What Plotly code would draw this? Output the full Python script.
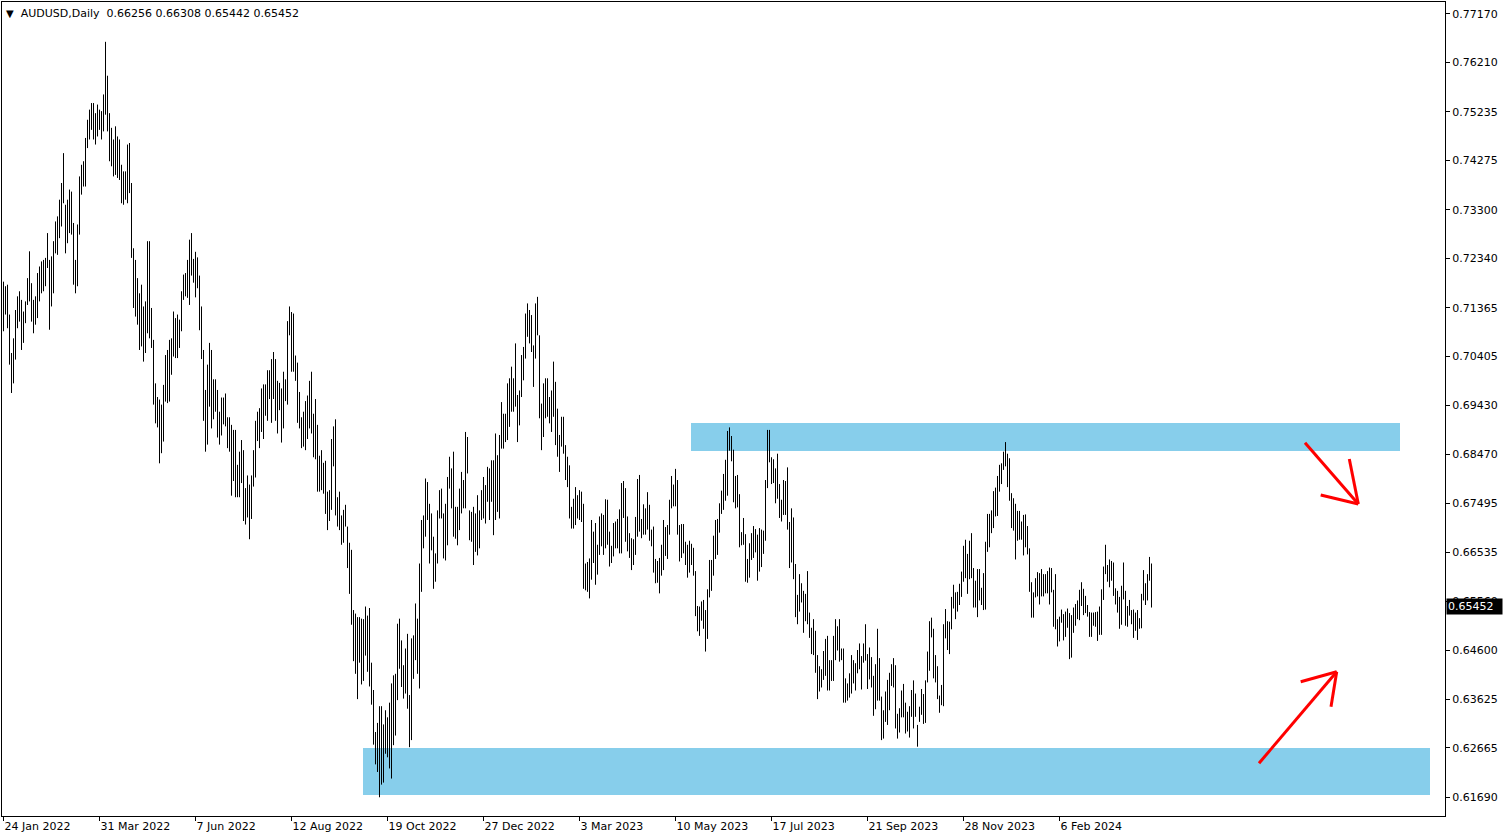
import plotly.graph_objects as go

# ---------------- data ----------------
symbol_title = "AUDUSD,Daily"
last_open, last_high, last_low, last_close = 0.66256, 0.66308, 0.65442, 0.65452

# x-axis: one slot per daily bar; labels every 48 bars
date_labels = ["24 Jan 2022", "31 Mar 2022", "7 Jun 2022", "12 Aug 2022", "19 Oct 2022",
               "27 Dec 2022", "3 Mar 2023", "10 May 2023", "17 Jul 2023", "21 Sep 2023",
               "28 Nov 2023", "6 Feb 2024"]
date_label_bars = [0, 48, 96, 144, 192, 240, 288, 336, 384, 432, 480, 528]

# y-axis labels (MetaTrader scale)
price_ticks = [0.77170, 0.76210, 0.75235, 0.74275, 0.73300, 0.72340, 0.71365, 0.70405,
               0.69430, 0.68470, 0.67495, 0.66535, 0.65560, 0.64600, 0.63625, 0.62665, 0.61690]

# daily highs / lows in 1/10000 (pips)
bar_high_pips = [
    7188, 7179, 7182, 7123, 7047, 7076, 7132, 7159, 7169, 7152,
    7129, 7149, 7195, 7248, 7185, 7152, 7159, 7205, 7218, 7228,
    7231, 7235, 7284, 7231, 7238, 7268, 7307, 7317, 7350, 7383,
    7442, 7340, 7350, 7370, 7366, 7304, 7231, 7301, 7396, 7419,
    7426, 7472, 7508, 7528, 7541, 7541, 7521, 7538, 7528, 7525,
    7558, 7662, 7595, 7521, 7492, 7469, 7495, 7475, 7469, 7419,
    7406, 7406, 7459, 7462, 7383, 7254, 7231, 7195, 7165, 7182,
    7139, 7149, 7268, 7268, 7136, 7073, 6987, 6960, 6955, 6945,
    6984, 7043, 7053, 7073, 7076, 7129, 7116, 7123, 7113, 7169,
    7202, 7205, 7231, 7271, 7284, 7233, 7247, 7236, 7200, 7139,
    7053, 6974, 7024, 7067, 7053, 6995, 6995, 6974, 6931, 6959,
    6959, 6967, 6920, 6920, 6905, 6895, 6895, 6826, 6852, 6875,
    6855, 6780, 6805, 6787, 6805, 6855, 6913, 6931, 6938, 6977,
    6985, 6985, 7013, 7013, 7035, 7049, 7035, 6992, 6988, 6977,
    7010, 6995, 7110, 7139, 7128, 7125, 7042, 7028, 6970, 6920,
    6931, 6952, 6963, 6992, 7010, 6927, 6956, 6905, 6844, 6855,
    6830, 6834, 6773, 6776, 6877, 6902, 6916, 6762, 6773, 6726,
    6737, 6747, 6704, 6672, 6658, 6539, 6532, 6525, 6525, 6522,
    6521, 6546, 6528, 6543, 6435, 6381, 6298, 6316, 6349, 6349,
    6313, 6341, 6327, 6356, 6394, 6410, 6413, 6512, 6522, 6479,
    6430, 6463, 6492, 6371, 6483, 6489, 6552, 6522, 6631, 6717,
    6726, 6799, 6792, 6749, 6730, 6684, 6651, 6736, 6776, 6779,
    6730, 6749, 6802, 6842, 6819, 6852, 6743, 6743, 6779, 6812,
    6796, 6891, 6881, 6736, 6733, 6743, 6730, 6766, 6736, 6776,
    6802, 6786, 6822, 6819, 6835, 6835, 6888, 6845, 6885, 6950,
    6927, 6927, 6987, 6997, 7020, 6997, 7066, 6964, 6973, 7043,
    7059, 7125, 7145, 7132, 7122, 7062, 7145, 7158, 7082, 6947,
    6987, 6997, 6997, 6960, 6973, 7030, 6990, 6937, 6885, 6921,
    6921, 6865, 6842, 6825, 6743, 6759, 6782, 6766, 6776, 6773,
    6749, 6631, 6634, 6641, 6717, 6694, 6711, 6668, 6724, 6730,
    6727, 6758, 6757, 6694, 6666, 6711, 6714, 6719, 6738, 6790,
    6794, 6780, 6724, 6691, 6681, 6679, 6723, 6798, 6806, 6719,
    6748, 6740, 6772, 6747, 6698, 6704, 6640, 6636, 6642, 6668,
    6717, 6703, 6707, 6757, 6804, 6787, 6818, 6796, 6707, 6709,
    6709, 6674, 6668, 6676, 6670, 6662, 6616, 6547, 6546, 6556,
    6559, 6539, 6580, 6638, 6638, 6686, 6717, 6719, 6750, 6775,
    6808, 6836, 6893, 6900, 6883, 6856, 6804, 6806, 6768, 6693,
    6721, 6689, 6640, 6671, 6691, 6705, 6699, 6688, 6701, 6698,
    6696, 6796, 6895, 6895, 6841, 6837, 6819, 6848, 6788, 6757,
    6796, 6794, 6821, 6713, 6740, 6722, 6630, 6569, 6610, 6592,
    6577, 6571, 6616, 6534, 6504, 6521, 6498, 6450, 6428, 6422,
    6458, 6482, 6488, 6440, 6440, 6488, 6521, 6507, 6521, 6463,
    6463, 6404, 6394, 6414, 6450, 6440, 6434, 6460, 6473, 6448,
    6473, 6511, 6452, 6465, 6446, 6409, 6432, 6502, 6444, 6368,
    6341, 6378, 6401, 6415, 6432, 6444, 6430, 6334, 6345, 6380,
    6393, 6356, 6338, 6349, 6381, 6400, 6374, 6312, 6348, 6383,
    6373, 6400, 6457, 6517, 6524, 6502, 6450, 6428, 6370, 6391,
    6511, 6541, 6517, 6516, 6565, 6589, 6574, 6575, 6591, 6615,
    6666, 6678, 6650, 6676, 6691, 6622, 6597, 6620, 6620, 6583,
    6612, 6674, 6729, 6729, 6736, 6774, 6781, 6804, 6826, 6829,
    6852, 6871, 6848, 6839, 6770, 6760, 6749, 6735, 6735, 6714,
    6727, 6728, 6705, 6661, 6594, 6574, 6602, 6614, 6612, 6620,
    6610, 6610, 6616, 6623, 6622, 6579, 6610, 6521, 6526, 6540,
    6531, 6536, 6542, 6533, 6529, 6544, 6551, 6558, 6579, 6594,
    6581, 6567, 6549, 6535, 6534, 6534, 6535, 6536, 6546, 6580,
    6625, 6668, 6628, 6639, 6636, 6633, 6582, 6577, 6565, 6587,
    6633, 6577, 6547, 6559, 6539, 6540, 6534, 6539, 6523, 6571,
    6618, 6592, 6610, 6644, 6631,
]
bar_low_pips = [
    7090, 7123, 7096, 7024, 6968, 6987, 7034, 7096, 7109, 7053,
    7067, 7106, 7142, 7149, 7109, 7086, 7103, 7116, 7149, 7165,
    7169, 7179, 7215, 7093, 7139, 7165, 7244, 7241, 7274, 7297,
    7343, 7244, 7264, 7284, 7281, 7182, 7165, 7179, 7281, 7360,
    7376, 7376, 7452, 7469, 7488, 7469, 7459, 7475, 7488, 7469,
    7485, 7518, 7485, 7426, 7416, 7396, 7399, 7393, 7389, 7343,
    7340, 7350, 7343, 7363, 7235, 7136, 7119, 7103, 7053, 7060,
    7030, 7047, 7086, 7076, 7057, 6945, 6908, 6900, 6829, 6849,
    6872, 6951, 6948, 6951, 7004, 7040, 7037, 7037, 7057, 7090,
    7152, 7159, 7156, 7142, 7200, 7186, 7157, 7175, 7092, 7035,
    6913, 6852, 6866, 6941, 6898, 6916, 6931, 6880, 6866, 6884,
    6906, 6902, 6859, 6852, 6765, 6794, 6762, 6762, 6762, 6790,
    6715, 6708, 6722, 6679, 6719, 6783, 6801, 6873, 6859, 6891,
    6877, 6923, 6913, 6956, 6909, 6956, 6913, 6888, 6934, 6870,
    6898, 6952, 6945, 7082, 7010, 7010, 6992, 6909, 6898, 6859,
    6862, 6855, 6877, 6898, 6888, 6841, 6837, 6773, 6773, 6776,
    6769, 6729, 6697, 6715, 6737, 6823, 6726, 6704, 6697, 6668,
    6672, 6704, 6622, 6571, 6510, 6438, 6413, 6363, 6435, 6392,
    6399, 6449, 6417, 6388, 6352, 6273, 6234, 6219, 6169, 6194,
    6198, 6255, 6248, 6226, 6206, 6272, 6291, 6361, 6423, 6387,
    6364, 6374, 6344, 6268, 6282, 6403, 6440, 6413, 6384, 6575,
    6661, 6684, 6717, 6631, 6657, 6581, 6595, 6631, 6720, 6720,
    6641, 6637, 6667, 6779, 6740, 6684, 6680, 6667, 6697, 6730,
    6740, 6740, 6809, 6677, 6674, 6628, 6654, 6647, 6661, 6717,
    6720, 6710, 6753, 6717, 6753, 6687, 6717, 6733, 6720, 6858,
    6858, 6871, 6875, 6901, 6931, 6931, 6941, 6871, 6904, 6960,
    6993, 7036, 7079, 7066, 7049, 6980, 7036, 7082, 6918, 6855,
    6881, 6918, 6921, 6908, 6891, 6921, 6865, 6842, 6812, 6862,
    6848, 6796, 6782, 6720, 6700, 6700, 6707, 6720, 6717, 6713,
    6581, 6578, 6575, 6562, 6599, 6632, 6589, 6609, 6648, 6665,
    6648, 6661, 6668, 6625, 6632, 6645, 6661, 6661, 6651, 6651,
    6721, 6674, 6655, 6642, 6618, 6628, 6648, 6684, 6694, 6681,
    6688, 6688, 6698, 6676, 6665, 6613, 6592, 6593, 6572, 6607,
    6618, 6646, 6640, 6688, 6740, 6744, 6744, 6688, 6635, 6642,
    6651, 6628, 6603, 6613, 6628, 6607, 6527, 6497, 6488, 6518,
    6502, 6457, 6482, 6564, 6577, 6607, 6640, 6648, 6692, 6729,
    6737, 6755, 6765, 6854, 6833, 6752, 6740, 6742, 6663, 6667,
    6668, 6595, 6593, 6603, 6638, 6642, 6653, 6597, 6615, 6624,
    6650, 6676, 6780, 6831, 6788, 6790, 6750, 6759, 6721, 6714,
    6727, 6727, 6698, 6622, 6633, 6600, 6525, 6511, 6536, 6554,
    6494, 6517, 6511, 6484, 6452, 6450, 6415, 6363, 6378, 6386,
    6401, 6409, 6380, 6380, 6399, 6399, 6440, 6459, 6437, 6440,
    6356, 6356, 6360, 6366, 6374, 6394, 6380, 6414, 6422, 6382,
    6435, 6439, 6383, 6402, 6386, 6330, 6343, 6360, 6360, 6282,
    6285, 6318, 6312, 6341, 6389, 6386, 6305, 6285, 6297, 6327,
    6327, 6295, 6299, 6287, 6328, 6305, 6328, 6269, 6318, 6332,
    6314, 6316, 6396, 6419, 6485, 6404, 6396, 6363, 6336, 6351,
    6349, 6483, 6460, 6452, 6501, 6542, 6521, 6536, 6549, 6565,
    6595, 6602, 6571, 6600, 6602, 6544, 6544, 6525, 6558, 6549,
    6539, 6540, 6654, 6663, 6691, 6701, 6724, 6725, 6773, 6788,
    6816, 6823, 6782, 6755, 6701, 6696, 6639, 6676, 6678, 6678,
    6647, 6663, 6649, 6575, 6524, 6524, 6564, 6566, 6550, 6566,
    6566, 6572, 6572, 6550, 6574, 6506, 6501, 6467, 6477, 6514,
    6479, 6486, 6504, 6442, 6445, 6494, 6508, 6521, 6519, 6547,
    6529, 6533, 6526, 6486, 6486, 6508, 6506, 6478, 6490, 6490,
    6559, 6610, 6595, 6584, 6597, 6567, 6550, 6534, 6502, 6510,
    6560, 6508, 6506, 6528, 6511, 6484, 6498, 6480, 6502, 6503,
    6558, 6549, 6558, 6597, 6544,
]

# drawn objects: supply/demand zones (bar position, price)
zone_start_bar = [343.75, 179.75]
zone_end_bar = [698.25, 713.25]
zone_price_low = [0.68534, 0.61735]
zone_price_high = [0.69087, 0.62664]

# hand-drawn red arrows: shaft tail -> tip, plus two wing ends
arrow_tail_bar = [650.75, 627.75]
arrow_tail_price = [0.68698, 0.62362]
arrow_tip_bar = [677.4, 666.6]
arrow_tip_price = [0.67486, 0.64172]
arrow_wing1_bar = [672.9, 648.6]
arrow_wing1_price = [0.68376, 0.63974]
arrow_wing2_bar = [658.6, 663.75]
arrow_wing2_price = [0.67664, 0.63480]

# ---------------- figure ----------------
FONT = "DejaVu Sans"
W, H = 1508, 840
ML, MR, MT, MB = 2, 63, 2, 24
PX_PER_BAR = 2.0
X_START = -0.75
x_range = [X_START, X_START + (W - ML - MR) / PX_PER_BAR]

xs, ys = [], []
for i, (h, l) in enumerate(zip(bar_high_pips, bar_low_pips)):
    xs += [i, i, None]
    ys += [l / 10000.0, h / 10000.0, None]

fig = go.Figure()
fig.add_trace(go.Scatter(x=xs, y=ys, mode="lines",
                         line=dict(color="#000000", width=1),
                         hoverinfo="skip", showlegend=False))

shapes = []
for x0, x1, y0, y1 in zip(zone_start_bar, zone_end_bar, zone_price_low, zone_price_high):
    shapes.append(dict(type="rect", xref="x", yref="y", x0=x0, x1=x1, y0=y0, y1=y1,
                       fillcolor="#87CEEB", line=dict(width=0), layer="below"))

for k in range(len(arrow_tip_bar)):
    tip = (arrow_tip_bar[k], arrow_tip_price[k])
    for sx, sy in [(arrow_tail_bar[k], arrow_tail_price[k]),
                   (arrow_wing1_bar[k], arrow_wing1_price[k]),
                   (arrow_wing2_bar[k], arrow_wing2_price[k])]:
        shapes.append(dict(type="line", xref="x", yref="y", x0=sx, y0=sy,
                           x1=tip[0], y1=tip[1],
                           line=dict(color="#FF0000", width=3), layer="above"))

header = ("<span style='font-size:10px'>\u25BC</span>\u00a0 " + symbol_title + "\u00a0 "
          + " ".join(f"{v:.5f}" for v in (last_open, last_high, last_low, last_close)))

annotations = [
    dict(xref="paper", yref="paper", x=0, y=1, xanchor="left", yanchor="top",
         xshift=2, yshift=-3, text=header, showarrow=False,
         font=dict(family=FONT, size=11, color="#000000")),
    dict(xref="paper", yref="y", x=1, y=last_close, xanchor="left", yanchor="middle",
         xshift=1, text=f"{last_close:.5f}", showarrow=False, bgcolor="#000000",
         width=53, align="left",
         borderpad=1, font=dict(family=FONT, size=11, color="#FFFFFF")),
]

fig.update_layout(
    width=W, height=H,
    margin=dict(l=ML, r=MR, t=MT, b=MB, autoexpand=False),
    paper_bgcolor="#FFFFFF", plot_bgcolor="#FFFFFF",
    showlegend=False,
    shapes=shapes, annotations=annotations,
    font=dict(family=FONT, size=11, color="#000000"),
    hovermode=False,
)
fig.update_xaxes(
    range=x_range, tickmode="array", tickvals=date_label_bars, ticktext=date_labels,
    ticks="outside", ticklen=4, tickcolor="#000000", ticklabelposition="outside right",
    showline=True, linecolor="#000000", linewidth=1, mirror=True,
    showgrid=False, zeroline=False, automargin=False,
    tickfont=dict(family=FONT, size=11, color="#000000"),
)
fig.update_yaxes(
    range=[0.61320, 0.77407], side="right", tickmode="array", tickvals=price_ticks,
    ticktext=[f"{v:.5f}" for v in price_ticks],
    ticks="outside", ticklen=4, tickcolor="#000000",
    showline=True, linecolor="#000000", linewidth=1, mirror=True,
    showgrid=False, zeroline=False, automargin=False,
    tickfont=dict(family=FONT, size=11, color="#000000"),
)

fig.write_html("out.html", config={"displayModeBar": False},
               post_script="document.body.style.margin='0';")
